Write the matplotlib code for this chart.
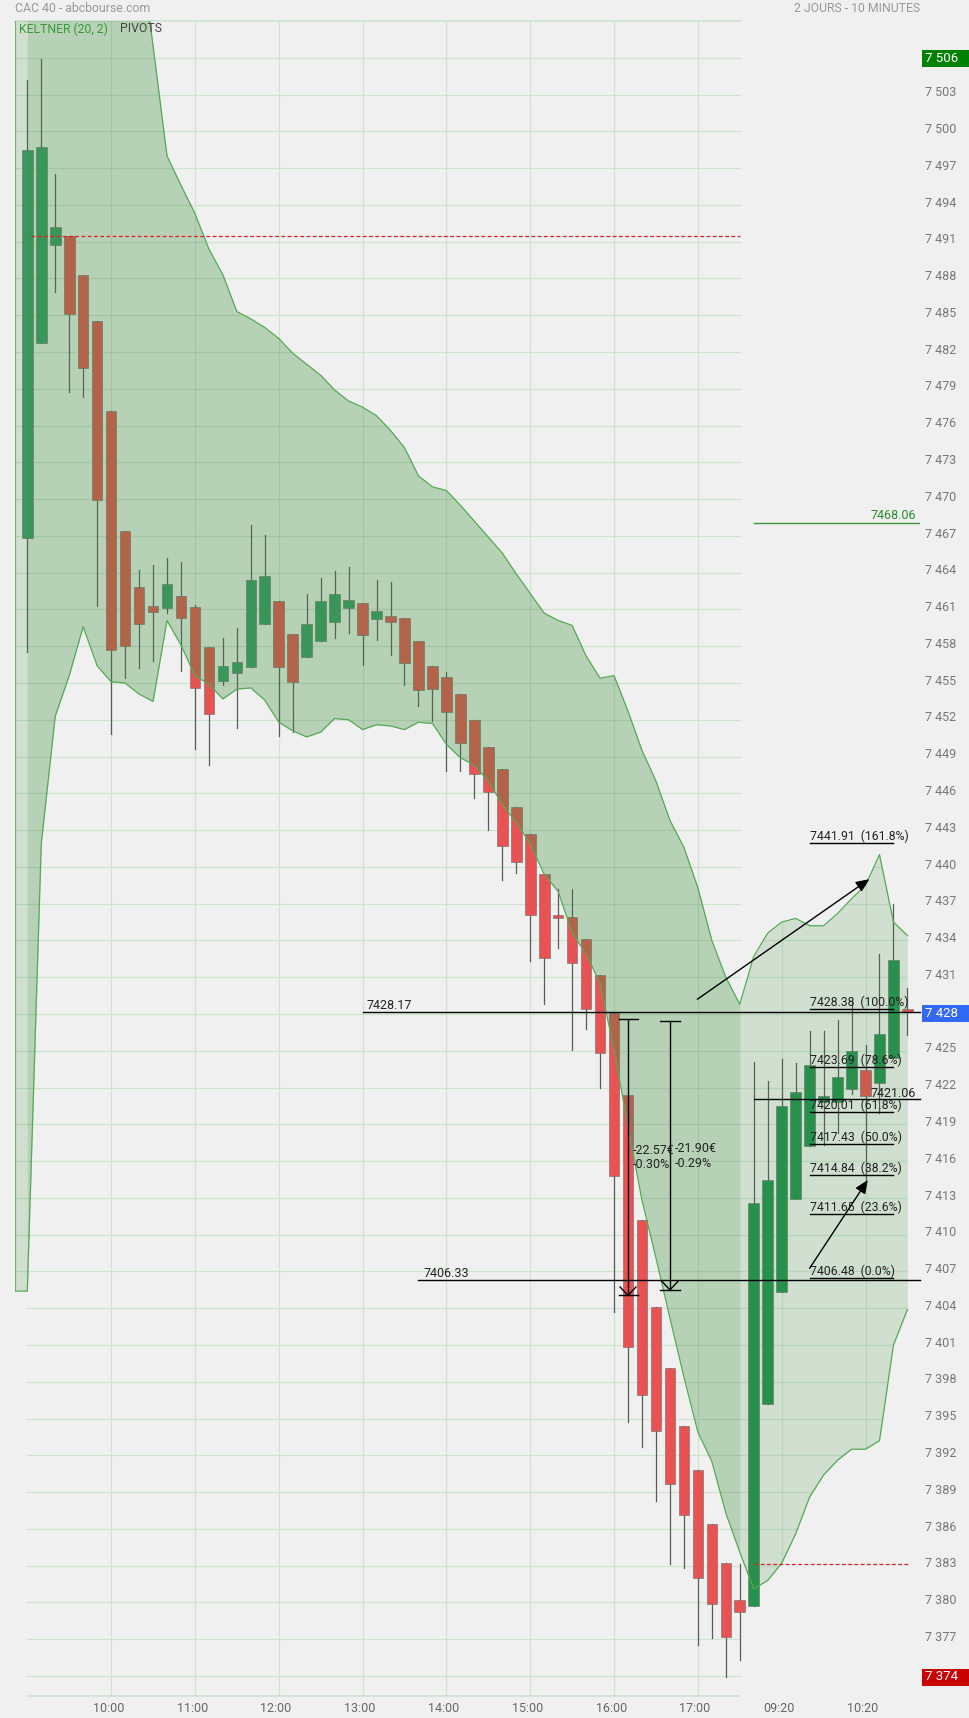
import numpy as np
import matplotlib
matplotlib.use("Agg")
import matplotlib.pyplot as plt
from matplotlib.patches import Polygon, Rectangle
from matplotlib.transforms import blended_transform_factory

plt.rcParams['font.family'] = ['Roboto', 'DejaVu Sans']

# ---- data (10-minute candles, day 1 = 0..51, day 2 = 52..63) ----
opens = [7466.8, 7482.7, 7490.7, 7491.5, 7488.3, 7484.5, 7477.2, 7467.4, 7462.8, 7461.3,
         7461.1, 7462.1, 7461.2, 7457.9, 7455.2, 7455.8, 7456.3, 7459.8, 7461.7, 7459.0,
         7457.1, 7458.4, 7460.0, 7461.1, 7461.5, 7460.2, 7460.5, 7460.3, 7458.4, 7456.4,
         7455.5, 7454.1, 7452.0, 7449.8, 7448.0, 7444.9, 7442.65, 7439.4, 7436.05, 7435.9,
         7434.1, 7431.2, 7428.1, 7421.4, 7411.2, 7404.1, 7399.1, 7394.4, 7390.8, 7386.4,
         7383.2, 7380.2,
         7379.7, 7396.2, 7405.3, 7412.9, 7417.2, 7420.85, 7420.85, 7421.9, 7423.4, 7422.4,
         7424.4, 7428.4]
highs = [7504.2, 7505.9, 7496.5, 7491.5, 7488.3, 7484.5, 7477.2, 7467.4, 7464.2, 7464.6,
         7465.2, 7464.9, 7461.4, 7457.9, 7458.7, 7459.5, 7467.9, 7467.1, 7461.7, 7459.0,
         7462.3, 7463.6, 7464.1, 7464.5, 7461.5, 7463.4, 7463.2, 7460.3, 7458.4, 7456.4,
         7455.9, 7454.1, 7452.0, 7449.8, 7448.0, 7444.9, 7442.65, 7439.4, 7438.2, 7438.2,
         7434.1, 7431.2, 7428.1, 7421.4, 7411.2, 7404.1, 7399.1, 7394.4, 7390.8, 7386.4,
         7383.2, 7383.1,
         7424.1, 7422.5, 7424.3, 7424.0, 7426.6, 7426.6, 7427.5, 7429.0, 7425.5, 7432.9,
         7437.0, 7430.1]
lows = [7457.5, 7482.7, 7486.9, 7478.7, 7478.3, 7461.3, 7450.8, 7455.4, 7456.2, 7456.8,
        7460.7, 7456.0, 7449.6, 7448.3, 7454.8, 7451.3, 7456.3, 7459.8, 7450.7, 7451.0,
        7457.1, 7458.4, 7458.7, 7459.1, 7456.5, 7458.5, 7457.3, 7454.8, 7453.1, 7451.9,
        7447.8, 7447.8, 7445.6, 7443.0, 7438.9, 7439.5, 7432.35, 7428.8, 7433.4, 7425.1,
        7426.8, 7422.0, 7403.7, 7394.7, 7392.7, 7388.3, 7383.1, 7382.8, 7376.5, 7377.1,
        7373.9, 7375.3,
        7379.7, 7396.2, 7405.3, 7412.9, 7417.2, 7417.3, 7418.3, 7421.5, 7414.5, 7419.9,
        7424.4, 7426.3]
closes = [7498.5, 7498.7, 7492.2, 7485.1, 7480.7, 7469.9, 7457.7, 7458.0, 7459.8, 7460.8,
          7463.1, 7460.3, 7454.6, 7452.5, 7456.4, 7456.7, 7463.4, 7463.7, 7456.3, 7455.1,
          7459.8, 7461.7, 7462.3, 7461.8, 7458.9, 7460.9, 7460.0, 7456.6, 7454.4, 7454.5,
          7452.6, 7450.1, 7447.6, 7446.1, 7441.7, 7440.4, 7436.1, 7432.6, 7435.8, 7432.2,
          7428.4, 7424.8, 7414.8, 7400.8, 7396.9, 7394.0, 7389.7, 7387.1, 7382.0, 7379.9,
          7377.2, 7379.2,
          7412.6, 7414.5, 7420.5, 7421.6, 7423.8, 7421.3, 7422.9, 7425.0, 7421.3, 7426.4,
          7432.4, 7428.2]

kelt_up = [7512.0, 7514.0, 7515.0, 7516.0, 7518.0, 7519.0, 7519.0, 7518.0, 7515.6, 7507.0,
           7498.0, 7495.6, 7493.3, 7490.4, 7488.3, 7485.3, 7484.7, 7484.0, 7483.1, 7481.9,
           7481.0, 7480.1, 7478.9, 7478.0, 7477.5, 7476.8, 7475.6, 7474.2, 7471.9, 7471.0,
           7470.7, 7469.5, 7468.2, 7466.9, 7465.6, 7463.9, 7462.3, 7460.7, 7460.1, 7459.7,
           7457.2, 7455.4, 7455.6, 7452.7, 7449.5, 7447.0, 7443.8, 7441.6, 7438.3, 7434.0,
           7431.0, 7428.8,
           7432.7, 7434.6, 7435.5, 7435.8, 7435.2, 7435.2, 7436.2, 7437.4, 7438.5, 7441.0,
           7435.5, 7434.4]
kelt_lo = [7405.4, 7441.9, 7452.3, 7455.6, 7459.6, 7456.4, 7455.1, 7455.0, 7454.1, 7453.5,
           7460.1, 7458.1, 7455.6, 7454.9, 7453.7, 7454.5, 7454.6, 7453.6, 7451.8, 7451.1,
           7450.6, 7451.0, 7452.1, 7452.0, 7451.2, 7451.6, 7451.5, 7451.2, 7451.8, 7451.7,
           7450.0, 7448.9, 7448.3, 7447.0, 7445.1, 7443.6, 7441.9, 7439.4, 7438.0, 7434.6,
           7432.9, 7430.5, 7425.1, 7418.8, 7412.8, 7408.1, 7403.2, 7398.4, 7393.9, 7391.5,
           7387.3, 7384.1,
           7381.1, 7381.8, 7383.2, 7385.6, 7388.6, 7390.4, 7391.6, 7392.5, 7392.5, 7393.2,
           7401.0, 7403.9]

hour_pos = [6, 12, 18, 24, 30, 36, 42, 48, 54, 60]
hour_labels = ["10:00", "11:00", "12:00", "13:00", "14:00", "15:00", "16:00", "17:00",
               "09:20", "10:20"]

fib_levels = [7441.91, 7428.38, 7423.69, 7420.01, 7417.43, 7414.84, 7411.65, 7406.48]
fib_pcts = ["161.8%", "100.0%", "78.6%", "61.8%", "50.0%", "38.2%", "23.6%", "0.0%"]

pivot_day1 = 7491.5
pivot_day2 = 7383.1
level_green = 7468.06
level_hi_line = 7428.17
level_lo_line = 7406.33
level_open2 = 7421.06
day_high, day_low, last_price = 7505.9, 7373.9, 7428.0

# ---- layout ----
W, H = 969, 1718
N = len(opens)
DAY1 = 52
X_LEFT, X_RIGHT = -0.88, 63.9
Y_BOT, Y_TOP = 7372.37, 7509.0
DAY1_END = 51.02

BG = "#f0f0f0"
GRID = "#cfe3cf"
UP1, UP2, DOWN = "#3a9a66", "#23924f", "#e85252"
FILL = "#3c8c3c"
BAND = "#55a955"


def px_box(l, t, r, b):
    return [l / W, 1 - b / H, (r - l) / W, (b - t) / H]


fig = plt.figure(figsize=(W / 100, H / 100), dpi=100, facecolor=BG)
ax = fig.add_axes(px_box(15, 21, 920, 1696))
ax.set_xlim(X_LEFT, X_RIGHT)
ax.set_ylim(Y_BOT, Y_TOP)
ax.axis("off")

idx = np.arange(N)
band_x = np.r_[X_LEFT, idx]
band_up = np.r_[kelt_up[0], kelt_up]
band_lo = np.r_[kelt_lo[0], kelt_lo]

clip_poly = Polygon(np.c_[np.r_[band_x, band_x[::-1]], np.r_[band_up, band_lo[::-1]]],
                    closed=True, transform=ax.transData)

# grid
grid_levels = np.arange(7374, 7507, 3)
for v in grid_levels:
    ax.plot([0, DAY1_END], [v, v], color=GRID, lw=0.9, zorder=1)
    for seg in ([X_LEFT, 0], [DAY1_END, X_RIGHT]):
        ln, = ax.plot(seg, [v, v], color=GRID, lw=0.9, zorder=1)
        ln.set_clip_path(clip_poly)
for p in hour_pos:
    ln, = ax.plot([p, p], [Y_BOT, Y_TOP], color=GRID, lw=0.9, zorder=1)
    if p >= DAY1:
        ln.set_clip_path(clip_poly)
ax.plot([X_LEFT, DAY1_END], [Y_TOP, Y_TOP], color=GRID, lw=1.2, zorder=1, clip_on=False)
ax.plot([0, DAY1_END], [Y_BOT, Y_BOT], color=GRID, lw=1.2, zorder=1, clip_on=False)

# candles
for i in range(N):
    o, h, l, c = opens[i], highs[i], lows[i], closes[i]
    if c >= o:
        col = UP1 if i < DAY1 else UP2
    else:
        col = DOWN
    ax.plot([i, i], [l, h], color="#5a5a5a", lw=0.9, zorder=2)
    ax.add_patch(Rectangle((i - 0.38, min(o, c)), 0.76, max(abs(c - o), 0.15),
                           facecolor=col, edgecolor="#6a6a6a", lw=0.4, zorder=2.5))

# keltner fill (two layers: whole range, then day 1 only)
ax.fill_between(band_x, band_lo, band_up, color=FILL, alpha=0.17, lw=0, zorder=3)
ax.fill_between(idx[:DAY1], kelt_lo[:DAY1], kelt_up[:DAY1], color=FILL, alpha=0.17,
                lw=0, zorder=3)
ax.plot(band_x, band_up, color=BAND, lw=0.9, zorder=3.5)
ax.plot(band_x, band_lo, color=BAND, lw=0.9, zorder=3.5)
ax.plot([X_LEFT, X_LEFT], [kelt_lo[0], Y_TOP], color="#6db36d", lw=1.6, zorder=3.5)

# pivots
ax.plot([0.3, DAY1_END], [pivot_day1, pivot_day1], color="#e02020", lw=0.9,
        ls=(0, (3, 2)), zorder=4)
ax.plot([DAY1, 63.05], [pivot_day2, pivot_day2], color="#e02020", lw=0.9,
        ls=(0, (3, 2)), zorder=4)

# green level
ax.plot([DAY1, X_RIGHT], [level_green, level_green], color="#3a9a3a", lw=1, zorder=5)
ax.text(63.6, level_green + 0.3, f"{level_green:.2f}", color="#2a8a2a", fontsize=9,
        ha="right", va="baseline", zorder=6)

# horizontal black lines
ax.plot([24, X_RIGHT], [level_hi_line, level_hi_line], color="black", lw=1, zorder=5,
        clip_on=False)
ax.text(24.3, level_hi_line + 0.2, f"{level_hi_line:.2f}", color="#222", fontsize=9,
        ha="left", va="baseline", zorder=6)
ax.plot([28, X_RIGHT], [level_lo_line, level_lo_line], color="black", lw=1, zorder=5,
        clip_on=False)
ax.text(28.35, level_lo_line + 0.2, f"{level_lo_line:.2f}", color="#222", fontsize=9,
        ha="left", va="baseline", zorder=6)
ax.plot([DAY1, X_RIGHT], [level_open2, level_open2], color="black", lw=1, zorder=5,
        clip_on=False)
ax.text(63.6, level_open2 + 0.2, f"{level_open2:.2f}", color="#222", fontsize=9,
        ha="right", va="baseline", zorder=6)

# measurement arrows
measures = [(43, 7427.62, 7405.05, 0.68, "-22.57€", "-0.30%", 43.34),
            (46, 7427.4, 7405.5, 0.72, "-21.90€", "-0.29%", 46.36)]
for x, top, bot, cap, t1, t2, tx in measures:
    ax.plot([x, x], [bot, top], color="black", lw=1, zorder=5)
    ax.plot([x - cap, x + cap], [top, top], color="black", lw=1, zorder=5)
    ax.plot([x - cap, x + cap], [bot, bot], color="black", lw=1, zorder=5)
    ax.plot([x - 0.57, x, x + 0.57], [bot + 0.68, bot, bot + 0.68], color="black",
            lw=1, zorder=5)
    mid = (top + bot) / 2
    ax.text(tx, mid + 0.55, t1, color="#222", fontsize=9, ha="left", va="center", zorder=6)
    ax.text(tx, mid - 0.65, t2, color="#222", fontsize=9, ha="left", va="center", zorder=6)

# fibonacci projection
for lv, pc in zip(fib_levels, fib_pcts):
    ax.plot([56, 62], [lv, lv], color="black", lw=1, zorder=5)
    ax.text(56, lv + 0.25, f"{lv:.2f}  ({pc})", color="#222", fontsize=8.8,
            ha="left", va="baseline", zorder=6)

arrow_kw = dict(arrowstyle="-|>,head_length=0.8,head_width=0.35", color="black",
                lw=1, shrinkA=0, shrinkB=0, mutation_scale=10)
ax.annotate("", xy=(60.16, 7414.46), xytext=(56.0, 7407.26), arrowprops=arrow_kw, zorder=6)
ax.annotate("", xy=(60.27, 7439.0), xytext=(47.96, 7429.2), arrowprops=arrow_kw, zorder=6)

# time labels
tr = blended_transform_factory(ax.transData, ax.transAxes)
for p, lab in zip(hour_pos, hour_labels):
    ax.text(p - 0.2, -0.0072, lab, transform=tr, color="#666", fontsize=9,
            ha="center", va="center", clip_on=False)

# price axis
ax2 = fig.add_axes(px_box(920, 21, 969, 1696))
ax2.set_xlim(920, 969)
ax2.set_ylim(Y_BOT, Y_TOP)
ax2.axis("off")
for v in grid_levels:
    ax2.text(925, v + 0.15, f"{v // 1000} {v % 1000:03d}", color="#777", fontsize=9,
             ha="left", va="center", clip_on=False)
for val, col in [(day_high, "#008000"), (day_low, "#c80000"), (last_price, "#3168f5")]:
    ax2.add_patch(Rectangle((922, val - 0.69), 47, 1.39, facecolor=col, lw=0,
                            zorder=5, clip_on=False))
    v = int(round(val))
    ax2.text(925, val + 0.05, f"{v // 1000} {v % 1000:03d}", color="white", fontsize=9.5,
             ha="left", va="center", zorder=6, clip_on=False)

# header texts
fig.text(15 / W, 1 - 8.5 / H, "CAC 40 - abcbourse.com", color="#999", fontsize=8.8,
         ha="left", va="center")
fig.text(920 / W, 1 - 8.5 / H, "2 JOURS - 10 MINUTES", color="#999", fontsize=8.8,
         ha="right", va="center")
fig.text(19 / W, 1 - 29 / H, "KELTNER (20, 2)", color="#3a9a3a", fontsize=8.8,
         ha="left", va="center")
fig.text(120 / W, 1 - 29 / H, "PIVOTS", color="#444", fontsize=8.8,
         ha="left", va="center")

fig.savefig("out.png", dpi=100, facecolor=BG)
